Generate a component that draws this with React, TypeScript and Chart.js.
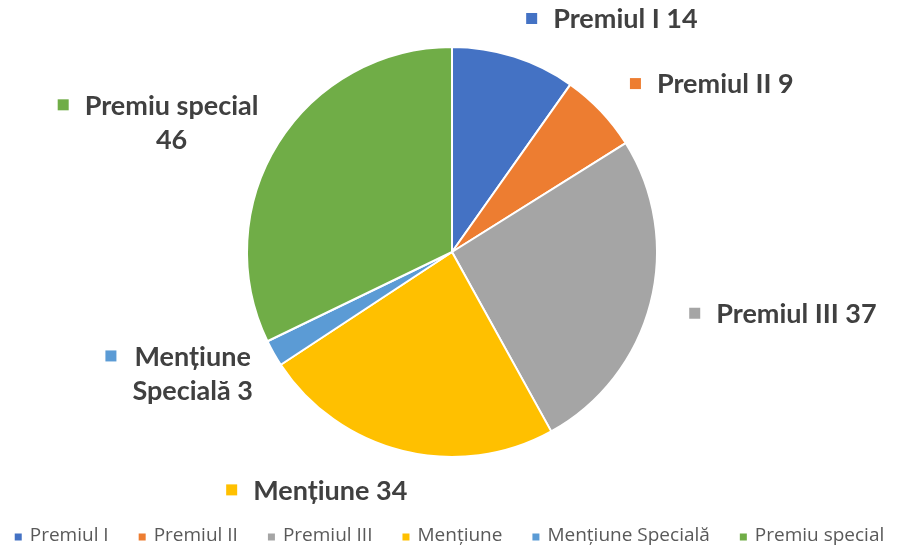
import React, { useEffect, useRef } from "react";
import { Chart, registerables } from "chart.js";

Chart.register(...registerables);

const categories = ["Premiul I", "Premiul II", "Premiul III", "Mențiune", "Mențiune Specială", "Premiu special"];
const values = [14, 9, 37, 34, 3, 46];
const colors = ["#4472C4", "#ED7D31", "#A5A5A5", "#FFC000", "#5B9BD5", "#70AD47"];

const LABEL_FONT = "bold 27px Lato";
const LEGEND_FONT = "19px 'Open Sans'";
const TEXT_COLOR = "#404040";
const LEGEND_COLOR = "#595959";

function wrapText(ctx: CanvasRenderingContext2D, text: string, maxW: number): string[] {
  const words = text.split(" ");
  const lines: string[] = [];
  let cur = "";
  for (const w of words) {
    const test = cur ? cur + " " + w : w;
    if (cur && ctx.measureText(test).width > maxW) {
      lines.push(cur);
      cur = w;
    } else {
      cur = test;
    }
  }
  if (cur) lines.push(cur);
  return lines;
}

const labelPlugin = {
  id: "pieLabels",
  afterDatasetsDraw(chart: any) {
    const ctx: CanvasRenderingContext2D = chart.ctx;
    const meta = chart.getDatasetMeta(0);
    ctx.save();
    ctx.font = LABEL_FONT;
    ctx.textBaseline = "middle";
    const marker = 11;
    const gap = 16;
    const lineH = 34;
    meta.data.forEach((arc: any, i: number) => {
      const { x, y, startAngle, endAngle, outerRadius } = arc.getProps(
        ["x", "y", "startAngle", "endAngle", "outerRadius"],
        true
      );
      const mid = (startAngle + endAngle) / 2;
      const dx = Math.cos(mid);
      const dy = Math.sin(mid);
      const r = outerRadius + 40;
      const px = x + dx * r;
      const py = y + dy * r;
      const text = categories[i] + " " + values[i];
      const lines = wrapText(ctx, text, 190);
      const widths = lines.map((l) => ctx.measureText(l).width);
      const maxW = Math.max(...widths);
      const W = marker + gap + maxW;
      const H = lines.length * lineH;
      const left = dx >= 0 ? px : px + 14 - W;
      const top = py - H / 2;
      const textLeft = left + marker + gap;
      ctx.fillStyle = colors[i];
      ctx.fillRect(left, top + lineH / 2 - marker / 2, marker, marker);
      ctx.fillStyle = TEXT_COLOR;
      ctx.textAlign = "center";
      lines.forEach((l, k) => {
        ctx.fillText(l, textLeft + maxW / 2, top + lineH / 2 + k * lineH + 1);
      });
    });
    ctx.restore();
  },
};

const legendPlugin = {
  id: "customLegend",
  afterDraw(chart: any) {
    const ctx: CanvasRenderingContext2D = chart.ctx;
    ctx.save();
    ctx.font = LEGEND_FONT;
    ctx.textBaseline = "middle";
    ctx.textAlign = "left";
    const box = 7;
    const boxGap = 8;
    const itemGap = 30;
    const widths = categories.map((c) => ctx.measureText(c).width);
    const total =
      widths.reduce((a, b) => a + b, 0) + categories.length * (box + boxGap) + (categories.length - 1) * itemGap;
    let xx = (chart.width - total) / 2;
    const yy = 536;
    categories.forEach((c, i) => {
      ctx.fillStyle = colors[i];
      ctx.fillRect(xx, yy - box / 2 + 1, box, box);
      xx += box + boxGap;
      ctx.fillStyle = LEGEND_COLOR;
      ctx.fillText(c, xx, yy);
      xx += widths[i] + itemGap;
    });
    ctx.restore();
  },
};

export default function App() {
  const ref = useRef<HTMLCanvasElement | null>(null);
  useEffect(() => {
    if (!ref.current) return;
    const chart = new Chart(ref.current, {
      type: "pie",
      data: {
        labels: categories,
        datasets: [
          {
            data: values,
            backgroundColor: colors,
            borderColor: "#ffffff",
            borderWidth: 2,
          },
        ],
      },
      options: {
        responsive: false,
        animation: false,
        layout: { padding: { top: 46, bottom: 87, left: 246, right: 241 } },
        plugins: {
          legend: { display: false },
          tooltip: { enabled: false },
        },
      },
      plugins: [labelPlugin, legendPlugin],
    });
    return () => chart.destroy();
  }, []);
  return (
    <div style={{ position: "absolute", left: 0, top: 0, width: 899, height: 545, background: "#fff" }}>
      <canvas ref={ref} width={899} height={545} style={{ display: "block" }} />
    </div>
  );
}
